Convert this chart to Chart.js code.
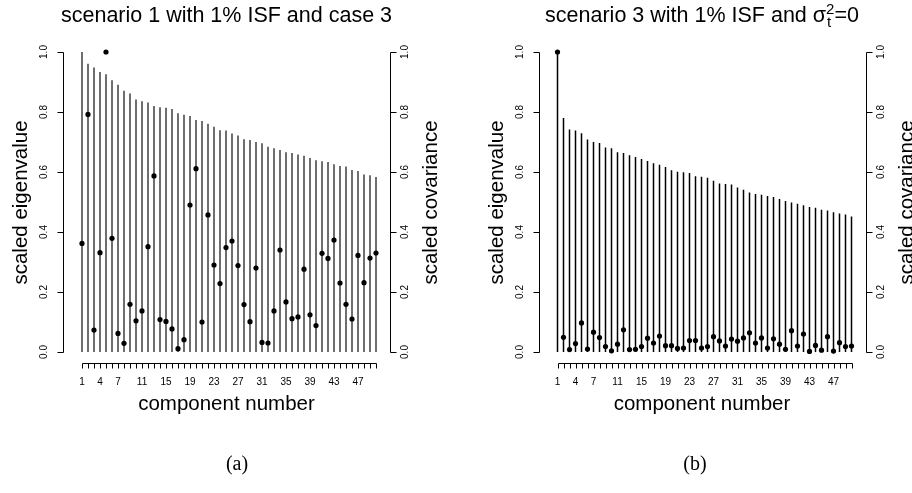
<!DOCTYPE html>
<html>
<head>
<meta charset="utf-8">
<script src="https://cdn.jsdelivr.net/npm/chart.js@4.4.1/dist/chart.umd.min.js"></script>
<style>
  body { margin: 0; background: #fff; }
  #wrap { position: relative; width: 912px; height: 493px; }
  #wrap canvas { position: absolute; top: 0; }
</style>
</head>
<body>
<div id="wrap">
  <canvas id="panelA" width="456" height="493" style="left:0"></canvas>
  <canvas id="panelB" width="456" height="493" style="left:456px"></canvas>
</div>
<script>
// component numbers 1..50
const components = Array.from({ length: 50 }, (_, i) => i + 1);

// axis labels
const xTickLabels = [1, 4, 7, 11, 15, 19, 23, 27, 31, 35, 39, 43, 47];
const yTicks = [0, 0.2, 0.4, 0.6, 0.8, 1.0];

// (a) scenario 1, case 3
const eigenA = [
  1.0, 0.961, 0.948, 0.933, 0.926, 0.906, 0.891, 0.871, 0.862, 0.842,
  0.836, 0.832, 0.82, 0.816, 0.814, 0.81, 0.796, 0.791, 0.787, 0.773,
  0.77, 0.761, 0.751, 0.739, 0.738, 0.728, 0.722, 0.709, 0.707, 0.70,
  0.696, 0.684, 0.679, 0.673, 0.666, 0.663, 0.658, 0.654, 0.647, 0.639,
  0.636, 0.633, 0.626, 0.62, 0.618, 0.607, 0.603, 0.592, 0.589, 0.583
];
const covA = [
  0.362, 0.792, 0.073, 0.331, 1.0, 0.379, 0.062, 0.029, 0.159, 0.104,
  0.137, 0.351, 0.587, 0.108, 0.102, 0.077, 0.011, 0.041, 0.49, 0.611,
  0.10, 0.457, 0.29, 0.228, 0.348, 0.37, 0.288, 0.158, 0.101, 0.28,
  0.032, 0.03, 0.137, 0.34, 0.167, 0.111, 0.117, 0.276, 0.124, 0.088,
  0.329, 0.312, 0.373, 0.23, 0.159, 0.11, 0.322, 0.231, 0.313, 0.33
];

// (b) scenario 3, sigma_t^2 = 0
const eigenB = [
  1.0, 0.78, 0.742, 0.738, 0.729, 0.708, 0.70, 0.697, 0.682, 0.679,
  0.666, 0.663, 0.656, 0.65, 0.643, 0.637, 0.629, 0.624, 0.617, 0.606,
  0.601, 0.599, 0.597, 0.586, 0.584, 0.581, 0.571, 0.562, 0.56, 0.558,
  0.548, 0.541, 0.532, 0.527, 0.524, 0.52, 0.517, 0.51, 0.503, 0.498,
  0.494, 0.489, 0.483, 0.481, 0.474, 0.472, 0.466, 0.462, 0.458, 0.452
];
const covB = [
  1.0, 0.049, 0.008, 0.028, 0.097, 0.01, 0.066, 0.048, 0.018, 0.004,
  0.026, 0.074, 0.008, 0.009, 0.018, 0.046, 0.03, 0.053, 0.021, 0.021,
  0.012, 0.013, 0.038, 0.038, 0.013, 0.018, 0.051, 0.037, 0.02, 0.043,
  0.036, 0.047, 0.064, 0.03, 0.047, 0.013, 0.044, 0.026, 0.009, 0.071,
  0.02, 0.06, 0.002, 0.022, 0.006, 0.051, 0.003, 0.031, 0.018, 0.02
];

const SANS = '"Liberation Sans", Arial, sans-serif';

// R-style axes: lines only over the data range, outward ticks, rotated y labels
const rAxes = {
  id: 'rAxes',
  afterDraw(chart, args, opts) {
    const ctx = chart.ctx;
    const { x, y } = chart.scales;
    const area = chart.chartArea;
    const snap = v => Math.round(v) + 0.5;
    ctx.save();
    ctx.strokeStyle = '#000';
    ctx.fillStyle = '#000';
    ctx.lineWidth = 1;

    const top = snap(y.getPixelForValue(1));
    const bot = snap(y.getPixelForValue(0));
    const L = snap(area.left), R = snap(area.right);

    ctx.beginPath();
    ctx.moveTo(L, top); ctx.lineTo(L, bot);
    ctx.moveTo(R, top); ctx.lineTo(R, bot);
    yTicks.forEach(v => {
      const py = snap(y.getPixelForValue(v));
      ctx.moveTo(L, py); ctx.lineTo(L - 6, py);
      ctx.moveTo(R, py); ctx.lineTo(R + 6, py);
    });

    // x axis along the bottom of the plot region
    const xb = snap(area.bottom) - 1;
    ctx.moveTo(snap(x.getPixelForValue(components[0])), xb);
    ctx.lineTo(snap(x.getPixelForValue(components[components.length - 1])), xb);
    components.forEach(c => {
      const px = snap(x.getPixelForValue(c));
      ctx.moveTo(px, xb); ctx.lineTo(px, xb + 5);
    });
    ctx.stroke();

    // tick labels
    ctx.font = '10px ' + SANS;
    ctx.textAlign = 'center';
    ctx.textBaseline = 'middle';
    xTickLabels.forEach(c => {
      ctx.fillText(String(c), x.getPixelForValue(c), xb + 19);
    });
    yTicks.forEach(v => {
      const py = y.getPixelForValue(v);
      [[L - 19, py], [R + 14.5, py]].forEach(([tx, ty]) => {
        ctx.save();
        ctx.translate(tx, ty);
        ctx.rotate(-Math.PI / 2);
        ctx.fillText(v.toFixed(1), 0, 0);
        ctx.restore();
      });
    });

    // axis titles
    ctx.font = '20.5px ' + SANS;
    const midY = (top + bot) / 2;
    const midX = (area.left + area.right) / 2;
    ctx.fillText('component number', midX, xb + 41);
    [['scaled eigenvalue', L - 42], ['scaled covariance', R + 41]].forEach(([t, tx]) => {
      ctx.save();
      ctx.translate(tx, midY);
      ctx.rotate(-Math.PI / 2);
      ctx.fillText(t, 0, 0);
      ctx.restore();
    });

    // main title
    ctx.font = '21.5px ' + SANS;
    ctx.textBaseline = 'alphabetic';
    opts.drawTitle(ctx, midX, 22);

    // panel caption
    ctx.font = '20px "Liberation Serif", "DejaVu Serif", serif';
    ctx.textAlign = 'center';
    ctx.fillText(opts.caption, midX + opts.captionShift, 470);
    ctx.restore();
  }
};

function makePanel(id, eigen, cov, barColor, barWidth, padding, drawTitle, caption, captionShift) {
  return new Chart(document.getElementById(id), {
    type: 'bar',
    data: {
      datasets: [{
        type: 'bar',
        data: components.map((c, i) => ({ x: c, y: eigen[i] })),
        backgroundColor: barColor,
        barThickness: barWidth,
        borderWidth: 0,
        inflateAmount: 0,
        order: 2
      }, {
        type: 'scatter',
        data: components.map((c, i) => ({ x: c, y: cov[i] })),
        pointRadius: 2.6,
        pointBackgroundColor: '#000',
        pointBorderWidth: 0,
        order: 1
      }]
    },
    options: {
      responsive: false,
      animation: false,
      devicePixelRatio: 1,
      layout: { padding },
      scales: {
        // 6 px per component, 19 px before the first and 14 px after the last
        x: { type: 'linear', min: 1 - 19 / 6, max: 50 + 14 / 6, offset: false, display: false },
        y: { type: 'linear', min: -0.04, max: 1.04, display: false }
      },
      plugins: {
        legend: { display: false },
        tooltip: { enabled: false },
        rAxes: { drawTitle, caption, captionShift }
      }
    },
    plugins: [rAxes]
  });
}

makePanel('panelA', eigenA, covA, '#6e6e6e', 2,
  { left: 63, right: 66, top: 40, bottom: 129 },
  (ctx, cx, by) => {
    ctx.textAlign = 'center';
    ctx.fillText('scenario 1 with 1% ISF and case 3', cx, by);
  }, '(a)', 10.5);

makePanel('panelB', eigenB, covB, '#000', 1.5,
  { left: 82.5, right: 46.5, top: 40, bottom: 129 },
  (ctx, cx, by) => {
    // title with sigma carrying stacked ^2 and _t
    const main = 'scenario 3 with 1% ISF and \u03C3';
    const tail = '=0';
    const big = ctx.font;
    const small = '15px ' + SANS;
    const wMain = ctx.measureText(main).width;
    const wTail = ctx.measureText(tail).width;
    ctx.font = small;
    const wScript = Math.max(ctx.measureText('2').width, ctx.measureText('t').width);
    ctx.font = big;
    let x0 = cx - (wMain + wScript + wTail) / 2;
    ctx.textAlign = 'left';
    ctx.fillText(main, x0, by);
    ctx.font = small;
    ctx.fillText('2', x0 + wMain, by - 8);
    ctx.fillText('t', x0 + wMain + 1, by + 5);
    ctx.font = big;
    ctx.fillText(tail, x0 + wMain + wScript, by);
  }, '(b)', -7);
</script>
</body>
</html>
